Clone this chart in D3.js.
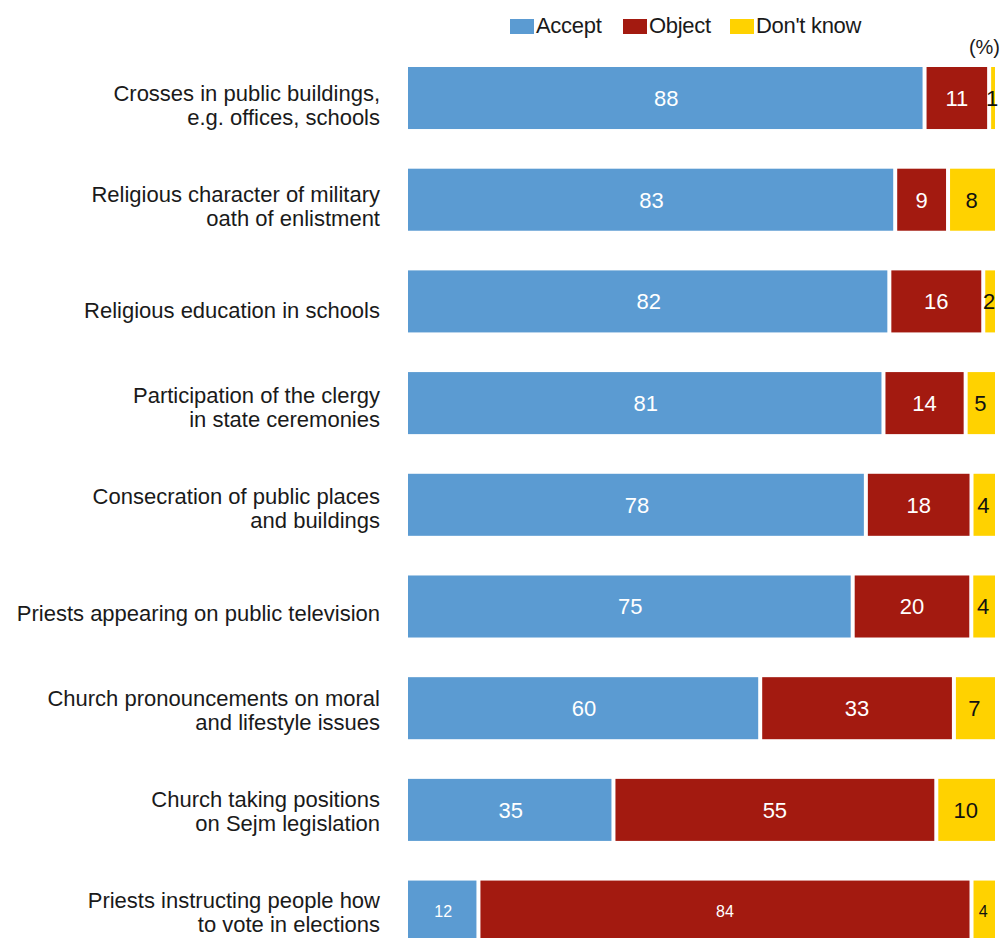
<!DOCTYPE html>
<html>
<head>
<meta charset="utf-8">
<script src="https://cdn.jsdelivr.net/npm/d3@7"></script>
<style>
  html, body { margin: 0; padding: 0; background: #fff; }
  svg { display: block; }
  text { font-family: "Liberation Sans", Arial, sans-serif; }
</style>
</head>
<body>
<svg id="chart" width="1002" height="938"></svg>
<script>
// Attitudes towards the presence of religion in public life (%)
const categories = [
  "Crosses in public buildings,\ne.g. offices, schools",
  "Religious character of military\noath of enlistment",
  "Religious education in schools",
  "Participation of the clergy\nin state ceremonies",
  "Consecration of public places\nand buildings",
  "Priests appearing on public television",
  "Church pronouncements on moral\nand lifestyle issues",
  "Church taking positions\non Sejm legislation",
  "Priests instructing people how\nto vote in elections"
];
const accept   = [88, 83, 82, 81, 78, 75, 60, 35, 12];
const object   = [11,  9, 16, 14, 18, 20, 33, 55, 84];
const dontKnow = [ 1,  8,  2,  5,  4,  4,  7, 10,  4];

const seriesNames = ["Accept", "Object", "Don't know"];
const seriesColors = ["#5b9bd2", "#a31a10", "#ffd200"];
const labelColors = ["#ffffff", "#ffffff", "#111111"];

const rows = categories.map((c, i) => ({
  category: c,
  Accept: accept[i],
  Object: object[i],
  "Don't know": dontKnow[i]
}));

const svg = d3.select("#chart");

const x = d3.scaleLinear().domain([0, 1]).range([408, 995]);
const y = d3.scaleBand()
  .domain(categories)
  .range([67, 942.6])
  .paddingInner(0.39)
  .paddingOuter(0);
// vertical centres of the category labels on the left
const yLabel = d3.scalePoint()
  .domain(categories)
  .range([105, 912]);

// 100% stacked layout
const stack = d3.stack()
  .keys(seriesNames)
  .offset(d3.stackOffsetExpand);
const layers = stack(rows);

const gap = 2; // half of the white gap between adjacent segments
const lastIndex = categories.length - 1;

const layerG = svg.append("g").selectAll("g")
  .data(layers)
  .join("g")
  .attr("fill", (d, i) => seriesColors[i]);

layerG.each(function(layer, li) {
  const g = d3.select(this);
  g.selectAll("rect")
    .data(layer)
    .join("rect")
    .attr("x", d => x(d[0]) + (li > 0 ? gap : 0))
    .attr("width", d => Math.max(0, x(d[1]) - x(d[0]) - (li > 0 ? gap : 0) - (li < layers.length - 1 ? gap : 0)))
    .attr("y", d => y(d.data.category))
    .attr("height", y.bandwidth());

  g.selectAll("text")
    .data(layer)
    .join("text")
    .attr("x", d => (x(d[0]) + x(d[1])) / 2)
    .attr("y", d => y(d.data.category) + y.bandwidth() / 2)
    .attr("dy", "0.36em")
    .attr("text-anchor", "middle")
    .attr("fill", labelColors[li])
    .style("font-size", (d, i) => i === lastIndex ? "16px" : "22px")
    .text(d => d.data[layer.key]);
});

// Category labels, right-aligned beside the bars
const catG = svg.append("g");
categories.forEach((c, i) => {
  const lines = c.split("\n");
  const lh = 24;
  const center = yLabel(c) + (lines.length === 1 ? 4 : 0);
  const t = catG.append("text")
    .attr("text-anchor", "end")
    .attr("fill", "#1a1a1a")
    .style("font-size", "22px");
  lines.forEach((ln, k) => {
    t.append("tspan")
      .attr("x", 380)
      .attr("y", center + (k - (lines.length - 1) / 2) * lh)
      .attr("dy", "0.35em")
      .text(ln);
  });
});

// Legend
const legendX = [510, 623, 730];
const legend = svg.append("g");
seriesNames.forEach((name, i) => {
  legend.append("rect")
    .attr("x", legendX[i])
    .attr("y", 19)
    .attr("width", 24)
    .attr("height", 15)
    .attr("fill", seriesColors[i]);
  legend.append("text")
    .attr("x", legendX[i] + 26)
    .attr("y", 33)
    .attr("fill", "#1a1a1a")
    .style("font-size", "22px")
    .style("letter-spacing", "-0.3px")
    .text(name);
});

svg.append("text")
  .attr("x", 1000)
  .attr("y", 54)
  .attr("text-anchor", "end")
  .attr("fill", "#1a1a1a")
  .style("font-size", "20px")
  .text("(%)");
</script>
</body>
</html>
